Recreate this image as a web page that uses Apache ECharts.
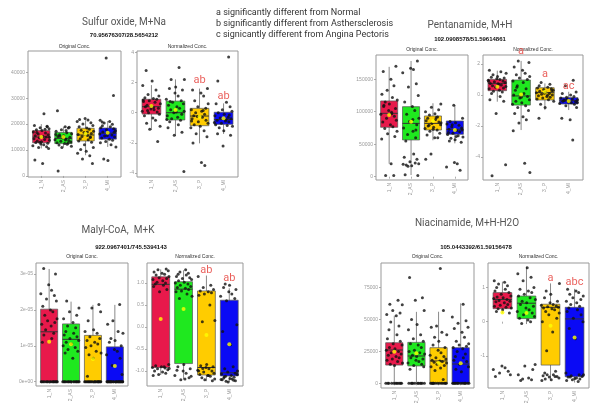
<!DOCTYPE html>
<html><head><meta charset="utf-8">
<script src="https://cdn.jsdelivr.net/npm/echarts@6/dist/echarts.min.js"></script>
<style>html,body{margin:0;padding:0;background:#fff}#c{width:604px;height:411px}</style>
</head><body><div id="c"></div>
<script>
// ---------- categories & legend ----------
const categories = ['1_N', '2_AS', '3_P', '4_MI'];
const boxColors = ['#E8194B', '#1FE81F', '#FFCC00', '#0A0AF5'];
const legendLines = [
  'a significantly different from Normal',
  'b significantly different from Asthersclerosis',
  'c signicantly different from Angina Pectoris'
];
const panelTitles = ['Sulfur oxide, M+Na', 'Pentanamide, M+H', 'Malyl-CoA,  M+K', 'Niacinamide, M+H-H2O'];
const panelSubtitles = ['70.95676307/28.5654212', '102.0908578/51.59614861', '922.0967401/745.5394143', '105.0443392/61.59156478'];
const facetNames = ['Original Conc.', 'Normalized Conc.'];

// jitter offsets (horizontal spread of points within a category)
const jitter = [0.12,-0.31,0.27,-0.05,0.35,-0.22,0.03,-0.36,0.19,-0.14,0.31,-0.27,0.08,0.22,-0.09,-0.33,0.15,0.37,-0.18,0.01,
  -0.25,0.29,-0.02,0.11,-0.38,0.24,-0.12,0.33,-0.29,0.06,0.17,-0.2,0.36,-0.07,0.26,-0.34,0.09,-0.16,0.21,-0.24];

// ---------- Sulfur oxide, original ----------
const sulfurOrigTicks = [0, 10000, 20000, 30000, 40000];
const sulfurOrigTickLabels = ['0', '10000', '20000', '30000', '40000'];
const sulfurOrigBox = [[10600,12800,15000,17500,20000],[11000,12500,14500,16800,19000],[8000,13500,15800,18400,21500],[11200,14200,16500,18500,21200]];
const sulfurOrigMean = [15000, 15000, 16300, 16700];
const sulfurOrigPoints = [
  [24000,19500,19000,18600,18200,17800,17500,17000,16600,16200,15900,15500,15200,15000,14700,14400,14100,13800,13500,13200,12900,12600,12300,12000,11700,11300,11000,10600,6200,4800,18000,16800,14900,13000,19200],
  [25200,19000,18500,17800,17200,16700,16300,15900,15500,15200,14900,14600,14300,14000,13700,13400,13100,12800,12500,12200,11900,11500,11000,18800,16000,13900,15300,12700,1900,17500],
  [22200,21600,21000,20500,20000,19500,19000,18500,18000,17600,17200,16800,16400,16000,15600,15200,14800,14400,14000,13500,13000,12000,11000,10200,9500,8800,7800,6500,4800,21800,17000,15000],
  [45500,31000,21500,21000,20400,19900,19400,19000,18600,18200,17800,17400,17000,16600,16200,15800,15400,15000,14600,14200,13800,13300,12800,12000,11200,6500,6000,20800,16900,15600]
];
// ---------- Sulfur oxide, normalized ----------
const sulfurNormTicks = [-4, -2, 0, 2, 4];
const sulfurNormTickLabels = ['-4', '-2', '0', '2', '4'];
const sulfurNormBox = [[-1.15,-0.09,0.4,0.89,1.83],[-1.54,-0.48,0.0,0.77,2.21],[-2.03,-0.86,-0.22,0.29,1.6],[-1.41,-0.77,-0.45,0.03,0.62]];
const sulfurNormMean = [0.45, 0.18, -0.26, -0.37];
const sulfurNormPoints = [
  [2.8,2.1,1.8,1.5,1.2,1.1,1.0,0.95,0.9,0.8,0.75,0.7,0.6,0.5,0.45,0.4,0.3,0.25,0.2,0.1,0.05,0.0,-0.1,-0.2,-0.35,-0.5,-0.7,-0.9,-1.1,-1.9,0.85,0.35,0.15],
  [3.0,2.2,2.2,1.7,1.6,1.5,1.3,1.1,0.9,0.8,0.7,0.6,0.5,0.4,0.3,0.2,0.1,0.0,-0.1,-0.2,-0.3,-0.4,-0.5,-0.6,-0.8,-1.0,-1.3,-1.5,-3.9,0.75,0.05,-0.45],
  [1.6,1.5,1.3,1.1,0.8,0.6,0.4,0.3,0.2,0.1,0.0,-0.1,-0.2,-0.3,-0.4,-0.5,-0.6,-0.7,-0.8,-0.9,-1.0,-1.2,-1.4,-1.6,-2.0,-3.3,-3.5,-0.25,-0.55,0.15],
  [3.7,2.1,0.7,0.6,0.4,0.2,0.1,0.0,-0.1,-0.2,-0.3,-0.35,-0.4,-0.5,-0.55,-0.6,-0.7,-0.8,-0.85,-0.9,-1.0,-1.2,-1.4,-1.5,-2.2,-0.45,-0.65,-0.15]
];
const sulfurNormNotes = [['3_P','ab',2.17],['4_MI','ab',1.06]];

// ---------- Pentanamide, original ----------
const pentaOrigTicks = [0, 50000, 100000, 150000];
const pentaOrigTickLabels = ['0', '50000', '100000', '150000'];
const pentaOrigBox = [[20000,76000,97500,116500,169000],[2500,56500,82000,107700,178000],[56000,71800,82000,93400,113000],[51300,65200,72900,85700,110000]];
const pentaOrigMean = [95000, 84600, 85700, 71800];
const pentaOrigPoints = [
  [170000,162000,150000,140000,133000,127000,122000,118000,115000,112000,108000,105000,102000,99000,96000,93000,90000,87000,84000,80000,77000,74000,70000,66000,62000,58000,20000,2000,2000,110000,97000],
  [178000,167000,165000,160000,143000,138000,125000,115000,108000,102000,96000,90000,85000,80000,75000,70000,65000,60000,55000,35000,30000,27000,23000,20000,18000,17000,19000,21000,16000,2000,3000,88000,72000],
  [112000,107000,103000,100000,97000,95000,92000,90000,88000,86000,84000,82000,80000,78000,76000,74000,72000,70000,67000,64000,60000,60000,35000,27000,91000,83000,79000,73000],
  [110000,90000,85000,83000,81000,79000,77000,75000,73000,71000,69000,67000,65000,63000,61000,59000,57000,55000,53000,22000,20000,15000,10000,80000,72000,68000,62000]
];
// ---------- Pentanamide, normalized ----------
const pentaNormTicks = [-4, -2, 0, 2];
const pentaNormTickLabels = ['-4', '-2', '0', '2'];
const pentaNormBox = [[-0.43,0.28,0.75,1.01,1.57],[-2.26,-0.65,-0.06,0.97,2.2],[-0.97,-0.32,0.15,0.47,0.75],[-0.97,-0.58,-0.37,-0.17,0.21]];
const pentaNormMean = [0.54, 0.04, 0.21, -0.39];
const pentaNormPoints = [
  [1.6,1.5,1.4,1.3,1.2,1.15,1.1,1.05,1.0,0.95,0.9,0.85,0.8,0.75,0.7,0.65,0.6,0.55,0.5,0.45,0.4,0.3,0.25,0.2,0.1,-0.1,-0.3,-0.4,-1.2,-4.5,-5.2,0.72,0.88],
  [2.2,2.1,1.8,1.6,1.4,1.3,1.2,1.1,1.0,0.9,0.8,0.6,0.4,0.3,0.1,0.0,-0.1,-0.2,-0.3,-0.4,-0.5,-0.6,-0.7,-0.8,-1.0,-1.2,-1.4,-1.6,-1.8,-2.3,-4.4,-5.0,0.5,-0.15],
  [0.8,0.7,0.6,0.5,0.45,0.4,0.35,0.3,0.25,0.2,0.15,0.1,0.05,0.0,-0.05,-0.1,-0.15,-0.2,-0.25,-0.3,-0.4,-0.6,-0.8,-1.5,0.28,0.12,-0.02],
  [0.95,0.6,0.2,0.1,0.0,-0.1,-0.15,-0.2,-0.25,-0.3,-0.35,-0.38,-0.4,-0.42,-0.45,-0.5,-0.55,-0.6,-0.7,-0.8,-1.5,-1.6,-2.9,-0.32,-0.48,-0.27]
];
const pentaNormNotes = [['2_AS','a',2.84],['3_P','a',1.35],['4_MI','ac',0.54]];

// ---------- Malyl-CoA, original ----------
const malylOrigTicks = [0, 1e-5, 2e-5, 3e-5];
const malylOrigTickLabels = ['0e+00', '1e-05', '2e-05', '3e-05'];
const malylOrigBox = [[0,0,1.39e-5,2.02e-5,3.14e-5],[0,0,1.18e-5,1.61e-5,2.23e-5],[0,0,0,1.29e-5,2.14e-5],[0,0,0,0.97e-5,2.14e-5]];
const malylOrigMean = [1.11e-5, 1.04e-5, 0.63e-5, 0.44e-5];
const malylOrigPoints = [
  [3.15e-5,3.0e-5,2.7e-5,2.55e-5,2.45e-5,2.4e-5,2.3e-5,2.25e-5,2.1e-5,2.0e-5,1.95e-5,1.85e-5,1.75e-5,1.7e-5,1.65e-5,1.6e-5,1.55e-5,1.45e-5,1.35e-5,1.3e-5,1.2e-5,1.1e-5,0,0,0,0,0,0,0,0,0,0,0,0,0,0,0,0],
  [2.25e-5,2.05e-5,1.95e-5,1.85e-5,1.75e-5,1.65e-5,1.55e-5,1.5e-5,1.4e-5,1.35e-5,1.3e-5,1.25e-5,1.2e-5,1.15e-5,1.1e-5,1.05e-5,1.0e-5,0.95e-5,0.9e-5,0.85e-5,0.8e-5,0.65e-5,0,0,0,0,0,0,0,0,0,0,0,0,0,0,0,0],
  [2.15e-5,2.05e-5,1.95e-5,1.7e-5,1.45e-5,1.4e-5,1.35e-5,1.25e-5,1.2e-5,1.15e-5,1.1e-5,1.05e-5,1.0e-5,0.95e-5,0.85e-5,0.8e-5,0.75e-5,0.65e-5,0.15e-5,0,0,0,0,0,0,0,0,0,0,0,0,0,0,0,0,0,0,0],
  [2.15e-5,1.7e-5,1.6e-5,1.4e-5,1.35e-5,1.2e-5,1.15e-5,1.1e-5,1.0e-5,0.9e-5,0.85e-5,0.75e-5,0.65e-5,0.45e-5,0.2e-5,0,0,0,0,0,0,0,0,0,0,0,0,0,0,0,0,0,0,0,0,0,0,0]
];
// ---------- Malyl-CoA, normalized ----------
const malylNormTicks = [-1, -0.5, 0, 0.5, 1];
const malylNormTickLabels = ['-1.0', '-0.5', '0.0', '0.5', '1.0'];
const malylNormBox = [[-1.09,-0.92,0.97,1.14,1.31],[-1.19,-0.83,0.86,1.03,1.29],[-1.23,-1.09,-0.92,0.82,1.17],[-1.25,-1.11,-1.04,0.61,0.88]];
const malylNormMean = [0.18, 0.41, -0.18, -0.39];
const malylNormPoints = [
  [1.32,1.3,1.28,1.25,1.22,1.2,1.18,1.15,1.12,1.1,1.08,1.05,1.02,1.0,0.98,0.95,0.92,0.85,0.8,-0.85,-0.88,-0.9,-0.92,-0.93,-0.95,-0.97,-1.0,-1.02,-1.05,-1.08,-1.1,-0.9,-0.94],
  [1.3,1.25,1.22,1.2,1.18,1.15,1.12,1.1,1.08,1.05,1.02,1.0,0.98,0.95,0.92,0.9,0.88,0.85,0.82,0.8,0.75,0.7,0.65,-0.85,-0.9,-0.95,-1.0,-1.05,-1.1,-1.15,-1.2,-1.12,-0.98,-1.18],
  [1.15,0.95,0.9,0.85,0.82,0.8,0.78,0.75,0.72,0.5,0.15,0.12,-0.85,-0.88,-0.9,-0.92,-0.95,-0.98,-1.0,-1.02,-1.05,-1.08,-1.1,-1.12,-1.15,-1.18,-1.2,-1.22,-1.0,-1.1,-0.94],
  [0.98,0.95,0.9,0.85,0.8,0.75,0.7,0.65,0.6,0.05,-0.1,-0.4,-0.9,-0.95,-1.0,-1.02,-1.05,-1.07,-1.1,-1.12,-1.14,-1.16,-1.18,-1.2,-1.22,-1.25,-1.08,-1.13,-1.17,-1.19,-1.21,-1.23]
];
const malylNormNotes = [['3_P','ab',1.30],['4_MI','ab',1.11]];

// ---------- Niacinamide, original ----------
const niaOrigTicks = [0, 25000, 50000, 75000];
const niaOrigTickLabels = ['0', '25000', '50000', '75000'];
const niaOrigBox = [[0,14300,26100,31800,53000],[0,13600,21400,32100,56000],[0,0,17500,27900,56100],[0,0,15100,27900,62700]];
const niaOrigMean = [24800, 23500, 16000, 15700];
const niaOrigPoints = [
  [65000,62000,61500,57000,55000,54000,53000,48000,45000,42000,38000,35000,33000,31000,30000,28000,27000,26000,25000,24000,23000,22000,21000,20000,19000,18000,17000,16000,15000,14000,0,0,0,0,0,0,0,0,0,0,0],
  [83000,67000,65000,57000,50000,46000,42000,38000,35000,33000,31000,30000,28000,26000,25000,24000,23000,22000,21000,20000,19000,18000,17000,16000,15000,14000,13000,11000,0,0,0,0,0,0,0,0,0,0,0],
  [90000,57000,45000,44000,40000,38000,36000,33000,30000,28000,26000,24000,22000,21000,20000,19000,18000,17500,17000,16500,16000,15000,14000,13000,12000,10000,3000,0,0,0,0,0,0,0,0,0,0,0,0,0],
  [62000,52000,49000,47000,44000,43000,40000,36000,33000,31000,30000,29000,28000,27000,25000,23000,21000,20000,18000,17000,15000,13000,11000,9000,0,0,0,0,0,0,0,0,0,0,0,0,0,0]
];
// ---------- Niacinamide, normalized ----------
const niaNormTicks = [-1, 0, 1];
const niaNormTickLabels = ['-1', '0', '1'];
const niaNormBox = [[0.25,0.38,0.65,0.85,1.17],[-0.07,0.09,0.54,0.75,1.61],[-1.69,-1.27,0.42,0.51,1.12],[-1.78,-1.61,0.08,0.42,0.96]];
const niaNormMean = [0.27, 0.25, -0.12, -0.46];
const niaNormPoints = [
  [1.2,1.15,1.1,1.05,1.0,0.95,0.9,0.85,0.8,0.75,0.72,0.7,0.68,0.65,0.62,0.6,0.58,0.55,0.5,0.48,0.45,0.42,0.4,0.38,0.35,0.3,0.25,-1.3,-1.35,-1.4,-1.45,-1.5,-1.55,-1.6],
  [1.58,1.4,1.3,1.2,1.0,0.95,0.9,0.85,0.8,0.75,0.7,0.65,0.6,0.55,0.5,0.45,0.4,0.35,0.3,0.25,0.2,0.15,0.1,0.05,0.0,-0.05,-1.25,-1.3,-1.4,-1.55,-1.65,-1.68,-1.7,-1.72],
  [1.12,0.9,0.8,0.7,0.6,0.55,0.5,0.48,0.46,0.44,0.42,0.4,0.38,0.35,0.3,0.25,0.2,0.1,0.0,-0.3,-0.85,-1.45,-1.5,-1.55,-1.58,-1.6,-1.62,-1.65,-1.68,-1.7,-1.72,-1.6,-1.55],
  [0.95,0.9,0.85,0.8,0.75,0.7,0.65,0.6,0.55,0.5,0.45,0.4,0.35,0.3,0.2,0.1,0.0,-0.2,-0.5,-1.5,-1.55,-1.58,-1.6,-1.62,-1.65,-1.68,-1.7,-1.72,-1.75,-1.55,-1.62,-1.66]
];
const niaNormNotes = [['3_P','a',1.27],['4_MI','abc',1.14]];

// ---------- layout (pixel positions / axis ranges) ----------
const subplots = [
  {grid:{left:28,top:51,width:93,height:126},  yMin:-400,  yMax:48200, ticks:sulfurOrigTicks, labels:sulfurOrigTickLabels, box:sulfurOrigBox, mean:sulfurOrigMean, points:sulfurOrigPoints, notes:[]},
  {grid:{left:137,top:51,width:101,height:126}, yMin:-4.26, yMax:4.09, ticks:sulfurNormTicks, labels:sulfurNormTickLabels, box:sulfurNormBox, mean:sulfurNormMean, points:sulfurNormPoints, notes:sulfurNormNotes},
  {grid:{left:376,top:55,width:92,height:125}, yMin:-5100, yMax:187200, ticks:pentaOrigTicks, labels:pentaOrigTickLabels, box:pentaOrigBox, mean:pentaOrigMean, points:pentaOrigPoints, notes:[]},
  {grid:{left:483,top:55,width:100,height:125}, yMin:-5.48, yMax:2.58, ticks:pentaNormTicks, labels:pentaNormTickLabels, box:pentaNormBox, mean:pentaNormMean, points:pentaNormPoints, notes:pentaNormNotes},
  {grid:{left:36,top:263,width:92,height:123}, yMin:-0.12e-5, yMax:3.306e-5, ticks:malylOrigTicks, labels:malylOrigTickLabels, box:malylOrigBox, mean:malylOrigMean, points:malylOrigPoints, notes:[]},
  {grid:{left:147,top:263,width:96,height:123}, yMin:-1.34, yMax:1.455, ticks:malylNormTicks, labels:malylNormTickLabels, box:malylNormBox, mean:malylNormMean, points:malylNormPoints, notes:malylNormNotes},
  {grid:{left:381,top:263,width:93,height:125}, yMin:-3680, yMax:94280, ticks:niaOrigTicks, labels:niaOrigTickLabels, box:niaOrigBox, mean:niaOrigMean, points:niaOrigPoints, notes:[]},
  {grid:{left:488,top:263,width:101,height:125}, yMin:-1.94, yMax:1.716, ticks:niaNormTicks, labels:niaNormTickLabels, box:niaNormBox, mean:niaNormMean, points:niaNormPoints, notes:niaNormNotes}
];
const titlePos = [[124,22],[470,25],[118,230],[467,223]];
const subtitlePos = [[124,35],[470,39],[131,247],[476,247]];
const facetY = [46.5, 46.5, 50, 50, 256.5, 256.5, 256.5, 256.5];

const BOX_W = 0.78;
const catPos = categories.map((c, i) => i + 1);

const grids = [], xAxes = [], yAxes = [], series = [];
subplots.forEach((sp, k) => {
  grids.push(Object.assign({show:true, borderColor:'#999', borderWidth:1, backgroundColor:'#fff', containLabel:false, outerBoundsMode:'none'}, sp.grid));
  xAxes.push({
    type:'value', gridIndex:k, min:0.4, max:4.6,
    axisLine:{show:false}, splitLine:{show:false},
    axisTick:{show:true, customValues:catPos, length:2, lineStyle:{color:'#999', width:0.8}},
    axisLabel:{customValues:catPos, rotate:90, margin:3, fontSize:5, color:'#999', fontFamily:'Liberation Sans',
      formatter: v => categories[Math.round(v) - 1]}
  });
  yAxes.push({
    type:'value', gridIndex:k, min:sp.yMin, max:sp.yMax,
    axisLine:{show:false}, splitLine:{show:false},
    axisTick:{show:true, customValues:sp.ticks, length:2, lineStyle:{color:'#999', width:0.8}},
    axisLabel:{customValues:sp.ticks, margin:3, fontSize:5, color:'#999', fontFamily:'Liberation Sans',
      formatter: v => {
        let best = 0;
        sp.ticks.forEach((t, i) => { if (Math.abs(t - v) < Math.abs(sp.ticks[best] - v)) best = i; });
        return sp.labels[best];
      }}
  });
  series.push({
    type:'custom', xAxisIndex:k, yAxisIndex:k, z:2, silent:true,
    data: sp.box.map((b, g) => [g + 1].concat(b)),
    encode:{x:0, y:[1,2,3,4,5]},
    renderItem: (params, api) => {
      const x = api.value(0);
      const lo = api.coord([x, api.value(1)]);
      const q1 = api.coord([x, api.value(2)]);
      const md = api.coord([x, api.value(3)]);
      const q3 = api.coord([x, api.value(4)]);
      const hi = api.coord([x, api.value(5)]);
      const w = api.size([BOX_W, 0])[0];
      return {type:'group', children:[
        {type:'line', shape:{x1:hi[0], y1:hi[1], x2:lo[0], y2:lo[1]}, style:{stroke:'#8a8a8a', lineWidth:1}},
        {type:'rect', shape:{x:q3[0] - w/2, y:q3[1], width:w, height:Math.max(q1[1] - q3[1], 0.5)},
          style:{fill:boxColors[params.dataIndex], stroke:'#555', lineWidth:0.7}},
        {type:'line', shape:{x1:md[0] - w/2, y1:md[1], x2:md[0] + w/2, y2:md[1]}, style:{stroke:'#333', lineWidth:1}}
      ]};
    }
  });
  const pts = [];
  sp.points.forEach((arr, g) => arr.forEach((v, i) => pts.push([g + 1 + jitter[(i + g * 11 + k * 5) % jitter.length], v])));
  series.push({type:'scatter', xAxisIndex:k, yAxisIndex:k, z:3, silent:true, symbolSize:3,
    itemStyle:{color:'#111'}, data:pts});
  series.push({type:'scatter', xAxisIndex:k, yAxisIndex:k, z:4, silent:true, symbolSize:4,
    itemStyle:{color:'#FFFF00'}, data: sp.mean.map((m, g) => [g + 1, m])});
  if (sp.notes.length) {
    series.push({type:'scatter', xAxisIndex:k, yAxisIndex:k, z:5, silent:true, symbolSize:0, clip:false,
      data: sp.notes.map(n => ({value:[categories.indexOf(n[0]) + 1, n[2]], name:n[1]})),
      label:{show:true, position:'inside', formatter:'{b}', color:'#E53935', fontSize:11, fontFamily:'Roboto'}});
  }
});

const texts = [];
legendLines.forEach((t, i) => texts.push({type:'text', x:216, y:13 + i * 11,
  style:{text:t, font:'9px Roboto', fill:'#333', align:'left', verticalAlign:'middle'}}));
panelTitles.forEach((t, i) => texts.push({type:'text', x:titlePos[i][0], y:titlePos[i][1],
  style:{text:t, font:'10px Roboto', fill:'#555', align:'center', verticalAlign:'middle'}}));
panelSubtitles.forEach((t, i) => texts.push({type:'text', x:subtitlePos[i][0], y:subtitlePos[i][1],
  style:{text:t, font:'bold 6px "Liberation Sans"', fill:'#111', align:'center', verticalAlign:'middle'}}));
subplots.forEach((sp, k) => texts.push({type:'text', x:sp.grid.left + sp.grid.width / 2, y:facetY[k],
  style:{text:facetNames[k % 2], font:'5px "Liberation Sans"', fill:'#333', align:'center', verticalAlign:'middle'}}));

const chart = echarts.init(document.getElementById('c'), null, {renderer:'canvas'});
chart.setOption({
  animation:false,
  backgroundColor:'#fff',
  grid:grids, xAxis:xAxes, yAxis:yAxes, series:series,
  graphic:{elements:texts}
});
</script></body></html>
